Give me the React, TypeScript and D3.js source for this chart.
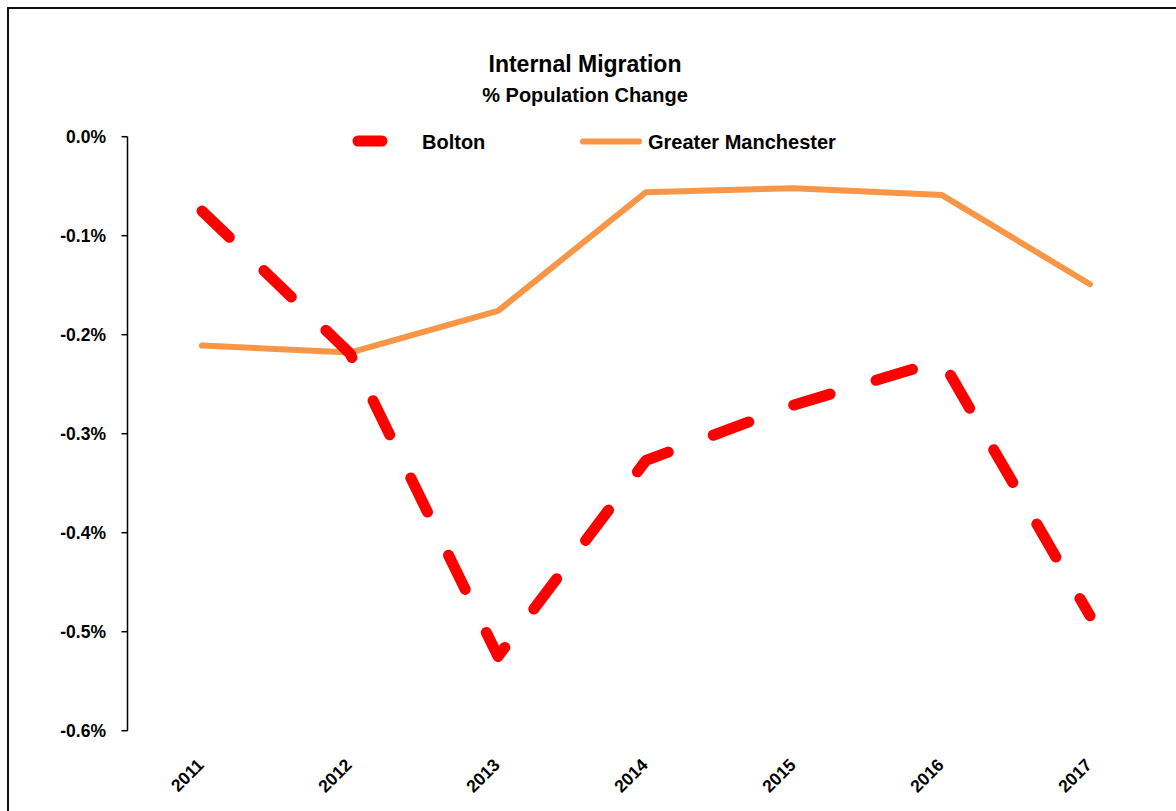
import React from "react";
import * as d3 from "d3";

// values in % population change
const years = ["2011", "2012", "2013", "2014", "2015", "2016", "2017"];
const bolton = [-0.075, -0.219, -0.525, -0.327, -0.271, -0.226, -0.484];
const greaterManchester = [-0.211, -0.218, -0.176, -0.056, -0.052, -0.059, -0.149];
const yTicks = [0, -0.1, -0.2, -0.3, -0.4, -0.5, -0.6];

const FONT = "'Liberation Sans', Arial, sans-serif";
const RED = "#ff0000";
const ORANGE = "#f79646";

export default function App() {
  const width = 1176;
  const height = 811;
  const dm = { left: 128, right: 1164, top: 136.7, bottom: 730.7 };

  const x = d3.scalePoint<string>().domain(years).range([dm.left, dm.right]).padding(0.5);
  const y = d3.scaleLinear().domain([-0.6, 0]).range([dm.bottom, dm.top]);

  const line = d3
    .line<number>()
    .x((d, i) => x(years[i]) as number)
    .y((d) => y(d));

  const axisX = 127.5;

  return (
    <svg
      width={width}
      height={height}
      style={{ position: "absolute", left: 0, top: 0, display: "block", background: "#fff" }}
    >
      {/* chart frame, runs off the page on right and bottom */}
      <rect x={8} y={8} width={1300} height={900} fill="#fff" stroke="#111" strokeWidth={2} />

      {/* titles */}
      <text x={585} y={71.5} textAnchor="middle" fontFamily={FONT} fontWeight="bold" fontSize={23} fill="#000">
        Internal Migration
      </text>
      <text x={585} y={101.5} textAnchor="middle" fontFamily={FONT} fontWeight="bold" fontSize={20} fill="#000">
        % Population Change
      </text>

      {/* y axis */}
      <line x1={axisX} x2={axisX} y1={y(0)} y2={y(-0.6)} stroke="#000" strokeWidth={1.5} />
      {yTicks.map((t) => (
        <g key={t}>
          <line x1={axisX - 6} x2={axisX} y1={y(t)} y2={y(t)} stroke="#000" strokeWidth={1.5} />
          <text
            x={106}
            y={y(t)}
            dy="0.36em"
            textAnchor="end"
            fontFamily={FONT}
            fontWeight="bold"
            fontSize={17.5}
            fill="#000"
          >
            {t.toFixed(1) + "%"}
          </text>
        </g>
      ))}

      {/* x labels */}
      {years.map((yr) => {
        const ax = (x(yr) as number) + 3;
        const ay = 766;
        return (
          <text
            key={yr}
            x={ax}
            y={ay}
            textAnchor="end"
            transform={`rotate(-45 ${ax} ${ay})`}
            fontFamily={FONT}
            fontWeight="bold"
            fontSize={17.5}
            fill="#000"
          >
            {yr}
          </text>
        );
      })}

      {/* series */}
      <path
        d={line(greaterManchester) ?? ""}
        fill="none"
        stroke={ORANGE}
        strokeWidth={6}
        strokeLinecap="round"
        strokeLinejoin="round"
      />
      <path
        d={line(bolton) ?? ""}
        fill="none"
        stroke={RED}
        strokeWidth={11}
        strokeDasharray="38 48"
        strokeLinecap="round"
        strokeLinejoin="round"
      />

      {/* legend */}
      <line x1={358} x2={382} y1={141} y2={141} stroke={RED} strokeWidth={11} strokeLinecap="round" />
      <text x={422} y={149} fontFamily={FONT} fontWeight="bold" fontSize={20} fill="#000">
        Bolton
      </text>
      <line x1={583} x2={639} y1={141.5} y2={141.5} stroke={ORANGE} strokeWidth={6} strokeLinecap="round" />
      <text x={648} y={149} fontFamily={FONT} fontWeight="bold" fontSize={20} fill="#000">
        Greater Manchester
      </text>
    </svg>
  );
}
